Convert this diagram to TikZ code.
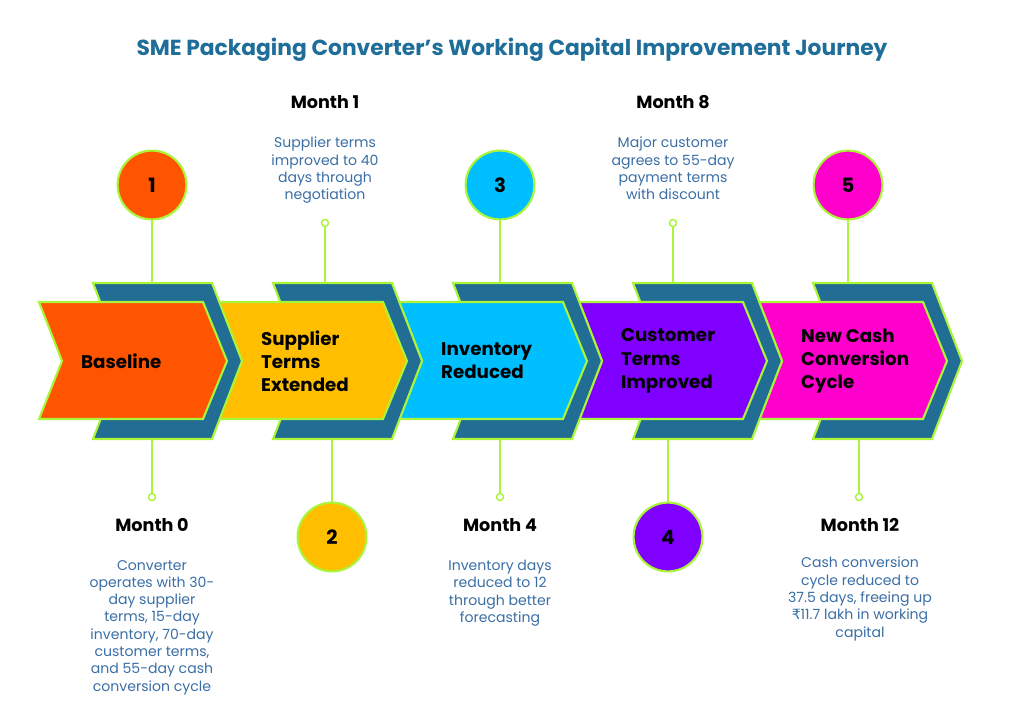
\documentclass[tikz,border=0pt]{standalone}
\usepackage{fontspec}
\setmainfont{Poppins}
\newfontfamily\symfont{DejaVu Sans}
\definecolor{stepA}{HTML}{FF5500}
\definecolor{stepB}{HTML}{FFBF00}
\definecolor{stepC}{HTML}{00BFFF}
\definecolor{stepD}{HTML}{8000FF}
\definecolor{stepE}{HTML}{FF00CC}
\definecolor{backblue}{HTML}{216D94}
\definecolor{lime}{HTML}{AAF53A}
\definecolor{titleblue}{HTML}{1F6E99}
\definecolor{textblue}{HTML}{3A6EA5}
\begin{document}
\begin{tikzpicture}[x=0.025cm,y=-0.025cm,semithick,
  back/.style={fill=backblue,draw=lime,line width=1.5pt},
  front/.style={draw=lime,line width=1.5pt},
  stepno/.style={circle,draw=lime,line width=1.5pt,minimum size=1.72cm,font=\bfseries\fontsize{14}{16}\selectfont},
  dot/.style={circle,draw=lime,fill=white,line width=1pt,inner sep=0pt,minimum size=5pt},
  link/.style={draw=lime,line width=1.2pt},
  month/.style={font=\bfseries\fontsize{12.5}{15}\selectfont},
  desc/.style={anchor=north,align=center,text=textblue,font=\fontsize{10}{12.3}\selectfont},
  label/.style={anchor=west,align=left,font=\bfseries\fontsize{13}{16.5}\selectfont}]
  \useasboundingbox (0,0) rectangle (1024,728);
  \node[text=titleblue,font=\bfseries\fontsize{15.5}{18}\selectfont] (title) at (512,50) {SME Packaging Converter's Working Capital Improvement Journey};
  % chevrons, drawn from right to left
  \foreach \i/\col in {4/stepE,3/stepD,2/stepC,1/stepB,0/stepA} {
    \pgfmathsetmacro{\o}{180*\i}
    \draw[back] (93+\o,283) -- (212+\o,283) -- (242+\o,361) -- (212+\o,439) -- (93+\o,439) -- (123+\o,361) -- cycle;
    \draw[front,fill=\col] (39+\o,302) -- (203+\o,302) -- (227+\o,361) -- (203+\o,419) -- (39+\o,419) -- (62+\o,361) -- cycle;
  }
  \node[label] (l1) at (76,361) {Baseline};
  \node[label] (l2) at (256,361) {Supplier\\Terms\\Extended};
  \node[label] (l3) at (436,361) {Inventory\\Reduced};
  \node[label] (l4) at (616,361) {Customer\\Terms\\Improved};
  \node[label] (l5) at (796,361) {New Cash\\Conversion\\Cycle};
  % anchors on the blue edges
  \coordinate (t1) at (152,283); \coordinate (b1) at (152,439);
  \coordinate (t2) at (325,283); \coordinate (b2) at (332,439);
  \coordinate (t3) at (500,283); \coordinate (b3) at (500,439);
  \coordinate (t4) at (673,283); \coordinate (b4) at (668,439);
  \coordinate (t5) at (848,283); \coordinate (b5) at (859,439);
  % numbered circles
  \node[stepno,fill=stepA] (s1) at (152,185) {1};
  \node[stepno,fill=stepB] (s2) at (332,537) {2};
  \node[stepno,fill=stepC] (s3) at (500,185) {3};
  \node[stepno,fill=stepD] (s4) at (668,537) {4};
  \node[stepno,fill=stepE] (s5) at (848,185) {5};
  \draw[link] (s1) -- (t1); \draw[link] (s3) -- (t3); \draw[link] (s5) -- (t5);
  \draw[link] (b2) -- (s2); \draw[link] (b4) -- (s4);
  % small dots
  \node[dot] (d1) at (152,497) {};
  \node[dot] (d2) at (325,223) {};
  \node[dot] (d3) at (500,497) {};
  \node[dot] (d4) at (673,223) {};
  \node[dot] (d5) at (859,497) {};
  \draw[link] (b1) -- (d1); \draw[link] (d2) -- (t2); \draw[link] (b3) -- (d3);
  \draw[link] (d4) -- (t4); \draw[link] (b5) -- (d5);
  % months and notes
  \node[month] (m1) at (325,102) {Month 1};
  \node[desc] (n1) at (325,132) {Supplier terms\\improved to 40\\days through\\negotiation};
  \node[month] (m8) at (673,102) {Month 8};
  \node[desc] (n8) at (673,132) {Major customer\\agrees to 55-day\\payment terms\\with discount};
  \node[month] (m0) at (152,525) {Month 0};
  \node[desc] (n0) at (152,555) {Converter\\operates with 30-\\day supplier\\terms, 15-day\\inventory, 70-day\\customer terms,\\and 55-day cash\\conversion cycle};
  \node[month] (m4) at (500,525) {Month 4};
  \node[desc] (n4) at (500,555) {Inventory days\\reduced to 12\\through better\\forecasting};
  \node[month] (m12) at (860,525) {Month 12};
  \node[desc] (n12) at (860,552) {Cash conversion\\cycle reduced to\\37.5 days, freeing up\\{\symfont ₹}11.7 lakh in working\\capital};
\end{tikzpicture}
\end{document}
